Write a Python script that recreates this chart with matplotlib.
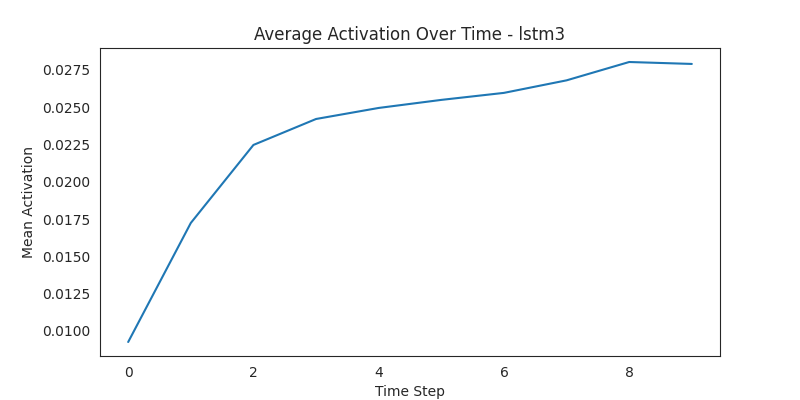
import matplotlib
matplotlib.use("Agg")
import matplotlib.pyplot as plt
import seaborn as sns

time_steps = [0, 1, 2, 3, 4, 5, 6, 7, 8, 9]
mean_activation = [0.00926, 0.01724, 0.02247, 0.02421, 0.02495,
                   0.02549, 0.02596, 0.02680, 0.02803, 0.02790]

sns.set_style("white")

plt.figure(figsize=(8, 4), dpi=100)
plt.plot(time_steps, mean_activation)
plt.title("Average Activation Over Time - lstm3")
plt.xlabel("Time Step")
plt.ylabel("Mean Activation")
plt.savefig("out.png")
